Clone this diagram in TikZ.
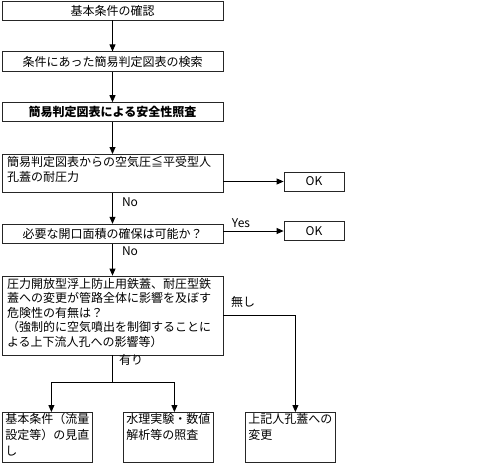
\documentclass[tikz,border=0pt]{standalone}
\usepackage{fontspec}
\setmainfont{Noto Sans CJK JP}
\usepackage{tikz}
\usetikzlibrary{positioning,arrows.meta}
\newcommand{\topcell}[3]{\parbox[t][#1][t]{#2}{\raggedright #3}}

\begin{document}
\begin{tikzpicture}[x=1pt,y=-1pt,
  font=\fontsize{12}{14.5}\selectfont,
  cell/.style={draw=black!85,line width=0.8pt,minimum width=221pt,minimum height=19pt,inner sep=2pt},
  tall/.style={cell,inner xsep=5pt,inner ysep=2pt,align=left},
  okcell/.style={draw=black!85,line width=0.8pt,minimum width=60pt,minimum height=19pt,inner sep=1pt},
  result/.style={draw=black!85,line width=0.8pt,anchor=north west,inner xsep=3pt,inner ysep=1pt,font=\fontsize{12}{16}\selectfont},
  arr/.style={-{Triangle[length=7pt,width=6pt]},line width=0.8pt}
]
  \useasboundingbox (0,0) rectangle (500,469);
  \node[cell] (base) at (112.5,10.5) {基本条件の確認};
  \node[cell,minimum height=20pt,below=31pt of base] (search) {条件にあった簡易判定図表の検索};
  \node[cell,below=30pt of search] (check) {\bfseries 簡易判定図表による安全性照査};
  \node[tall,below=32pt of check] (press) {\topcell{34pt}{211pt}{簡易判定図表からの空気圧≦平受型人\\孔蓋の耐圧力}};
  \node[cell,below=31pt of press] (area) {必要な開口面積の確保は可能か？};
  \node[tall,below=32pt of area] (risk) {\topcell{75pt}{211pt}{圧力開放型浮上防止用鉄蓋、耐圧型鉄\\蓋への変更が管路全体に影響を及ぼす\\危険性の有無は？\\（強制的に空気噴出を制御することに\\よる上下流人孔への影響等）}};
  \node[okcell] (ok1) at (314,181.5) {OK};
  \node[okcell] (ok2) at (314,231) {OK};
  \node[result] (revise) at (2,412) {\topcell{48pt}{84pt}{基本条件（流量\\設定等）の見直\\し}};
  \node[result] (test) at (123,412) {\topcell{48pt}{84pt}{水理実験・数値\\解析等の照査}};
  \node[result] (change) at (245,412) {\topcell{48pt}{84pt}{上記人孔蓋への\\変更}};
  \coordinate (split) at (112.5,382);
  % labels
  \node (no1) at (130,202) {No};
  \node (no2) at (130,251) {No};
  \node (yes) at (241,223) {Yes};
  \node (none) at (243,302) {無し};
  \node (some) at (131,360) {有り};
  % connectors
  \draw[arr] (base) -- (search);
  \draw[arr] (search) -- (check);
  \draw[arr] (check) -- (press);
  \draw[arr] (press) -- (area);
  \draw[arr] (area) -- (risk);
  \draw[arr] (press.east |- ok1.west) -- (ok1.west);
  \draw[arr] (area.east |- ok2.west) -- (ok2.west);
  \draw[line width=0.8pt] (risk) -- (split);
  \draw[arr] (split) -| ([xshift=4pt]revise.north);
  \draw[arr] (split) -| ([xshift=6pt]test.north);
  \draw[arr] (risk.east) -| ([xshift=5pt]change.north);
\end{tikzpicture}
\end{document}
